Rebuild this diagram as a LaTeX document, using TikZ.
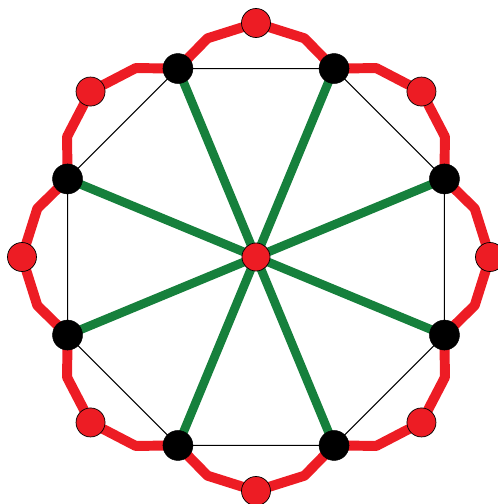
\documentclass[tikz,border=0pt]{standalone}
\usepackage{tikz}
\usetikzlibrary{
  arrows.meta,
  positioning,
  calc,
  backgrounds
}
\usepackage{xcolor}
\definecolor{wheelred}{RGB}{237,28,36}
\definecolor{wheelgreen}{RGB}{22,128,60}

\begin{document}
\begin{tikzpicture}[
  hub/.style={circle, draw=black, fill=black, minimum size=0.9cm, inner sep=0pt},
  rimnode/.style={circle, draw=black, fill=wheelred, minimum size=0.87cm, inner sep=0pt,
    line width=0.6pt},
  spoke/.style={wheelgreen, line width=7.5pt},
  rimline/.style={wheelred, line width=8.5pt, line join=round},
  chord/.style={black, line width=0.9pt}
]
  \useasboundingbox (-7.68,-7.41) rectangle (7.23,7.71);

  % Centre
  \node[rimnode, minimum size=0.84cm] (c) at (0,0) {};

  % Octagon (black)
  \node[hub] (b1) at (67.5:6.12) {};
  \node[hub] (b2) at (112.5:6.12) {};
  \node[hub] (b3) at (157.5:6.12) {};
  \node[hub] (b4) at (202.5:6.12) {};
  \node[hub] (b5) at (247.5:6.12) {};
  \node[hub] (b6) at (292.5:6.12) {};
  \node[hub] (b7) at (337.5:6.12) {};
  \node[hub] (b8) at (22.5:6.12) {};

  % Outer ring (red)
  \node[rimnode] (r1) at (90:7.02) {};
  \node[rimnode] (r2) at (135:7.02) {};
  \node[rimnode] (r3) at (180:7.02) {};
  \node[rimnode] (r4) at (225:7.02) {};
  \node[rimnode] (r5) at (270:7.02) {};
  \node[rimnode] (r6) at (315:7.02) {};
  \node[rimnode] (r7) at (0:7.02) {};
  \node[rimnode] (r8) at (45:7.02) {};

  % Bends of the red rim
  \coordinate (k1) at (77.5:6.72);
  \coordinate (k2) at (102.5:6.72);
  \coordinate (k3) at (122.5:6.72);
  \coordinate (k4) at (147.5:6.72);
  \coordinate (k5) at (167.5:6.72);
  \coordinate (k6) at (192.5:6.72);
  \coordinate (k7) at (212.5:6.72);
  \coordinate (k8) at (237.5:6.72);
  \coordinate (k9) at (257.5:6.72);
  \coordinate (k10) at (282.5:6.72);
  \coordinate (k11) at (302.5:6.72);
  \coordinate (k12) at (327.5:6.72);
  \coordinate (k13) at (347.5:6.72);
  \coordinate (k14) at (12.5:6.72);
  \coordinate (k15) at (32.5:6.72);
  \coordinate (k16) at (57.5:6.72);

  \begin{scope}[on background layer]
    % Rim
    \draw[rimline] (b1.center) -- (k1) -- (r1.center) -- (k2) -- (b2.center) -- (k3) -- (r2.center)
      -- (k4) -- (b3.center) -- (k5) -- (r3.center) -- (k6) -- (b4.center) -- (k7) -- (r4.center)
      -- (k8) -- (b5.center) -- (k9) -- (r5.center) -- (k10) -- (b6.center) -- (k11) -- (r6.center)
      -- (k12) -- (b7.center) -- (k13) -- (r7.center) -- (k14) -- (b8.center) -- (k15) -- (r8.center)
      -- (k16) -- cycle;

    % Chords
    \draw[chord] (b1.center) -- (b2.center) -- (b3.center) -- (b4.center) -- (b5.center)
      -- (b6.center) -- (b7.center) -- (b8.center) -- cycle;

    % Spokes
    \draw[spoke] (b1.center) -- (b5.center);
    \draw[spoke] (b2.center) -- (b6.center);
    \draw[spoke] (b3.center) -- (b7.center);
    \draw[spoke] (b4.center) -- (b8.center);
  \end{scope}

\end{tikzpicture}
\end{document}
